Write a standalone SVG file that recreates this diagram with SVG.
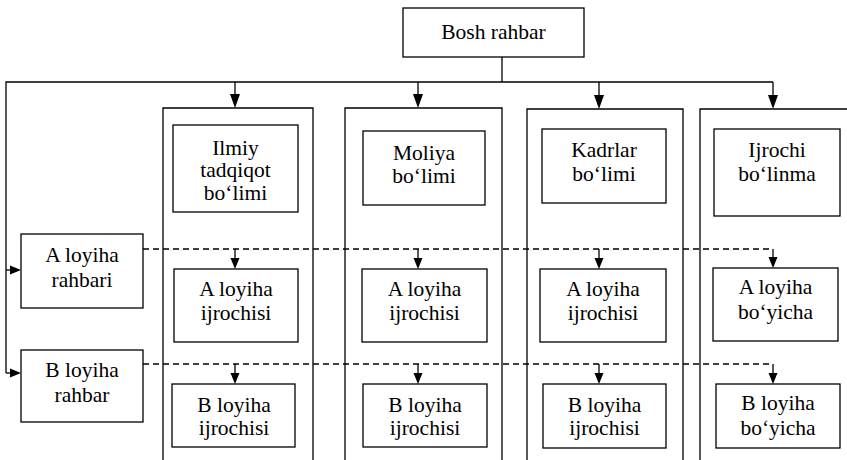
<svg xmlns="http://www.w3.org/2000/svg" width="847" height="460" viewBox="0 0 847 460">
<defs>
<polygon id="hd" points="-5,-14 5,-14 0,0"/>
<polygon id="hs" points="-4.5,-11 4.5,-11 0,0"/>
</defs>
<style>
.box{fill:#fff;stroke:#000;stroke-width:1.3}
.col{fill:none;stroke:#000;stroke-width:1.3}
.ln{fill:none;stroke:#000;stroke-width:1.3}
.dash{fill:none;stroke:#000;stroke-width:1.3;stroke-dasharray:6 4}
.head{fill:#000}
.t text{font-family:"Liberation Serif","Times New Roman",Tinos,"DejaVu Serif",serif;font-size:21.5px;fill:#000;text-anchor:middle}
</style>
<rect width="847" height="460" fill="#fff"/>

<g id="columns">
<path class="col" d="M163,460 V108 H313 V460"/>
<path class="col" d="M345,460 V108 H502 V460"/>
<path class="col" d="M527,460 V109 H683 V460"/>
<path class="col" d="M700,460 V109 H850"/>
</g>

<g id="connectors">
<path class="ln" d="M502,57 V82"/>
<path class="ln" d="M6,373 V82 H773"/>
<path class="ln" d="M235,82 V95"/><use href="#hd" class="head" x="235" y="108"/>
<path class="ln" d="M418,82 V95"/><use href="#hd" class="head" x="418" y="108"/>
<path class="ln" d="M599,82 V95"/><use href="#hd" class="head" x="599" y="109"/>
<path class="ln" d="M773,82 V95"/><use href="#hd" class="head" x="773" y="109"/>
<path class="ln" d="M6,270 H12"/><polygon class="head" points="10,265.5 10,274.5 21,270"/>
<path class="ln" d="M6,373 H12"/><polygon class="head" points="10,368.5 10,377.5 21,373"/>
<path class="dash" d="M143,249 H773"/>
<path class="dash" d="M143,364 H773"/>
<path class="ln" d="M235,249 V259"/><use href="#hs" class="head" x="235" y="269"/>
<path class="ln" d="M418,249 V259"/><use href="#hs" class="head" x="418" y="269"/>
<path class="ln" d="M599,249 V259"/><use href="#hs" class="head" x="599" y="269"/>
<path class="ln" d="M773,249 V258"/><use href="#hs" class="head" x="773" y="268"/>
<path class="ln" d="M235,364 V374"/><use href="#hs" class="head" x="235" y="384"/>
<path class="ln" d="M418,364 V374"/><use href="#hs" class="head" x="418" y="384"/>
<path class="ln" d="M599,364 V374"/><use href="#hs" class="head" x="599" y="384"/>
<path class="ln" d="M773,364 V374"/><use href="#hs" class="head" x="773" y="384"/>
</g>

<g class="t">
<g id="bosh">
<rect class="box" x="403" y="8" width="181" height="49"/>
<text x="493.5" y="39">Bosh rahbar</text>
</g>

<g id="ilmiy">
<rect class="box" x="173" y="125" width="125" height="87"/>
<text x="235.5" y="155">Ilmiy</text>
<text x="235.5" y="177">tadqiqot</text>
<text x="235.5" y="200">bo‘limi</text>
</g>

<g id="moliya">
<rect class="box" x="363" y="131" width="122" height="74"/>
<text x="424" y="160">Moliya</text>
<text x="424" y="183">bo‘limi</text>
</g>

<g id="kadrlar">
<rect class="box" x="542" y="129" width="124" height="74"/>
<text x="604" y="157">Kadrlar</text>
<text x="604" y="181">bo‘limi</text>
</g>

<g id="ijrochi">
<rect class="box" x="714" y="129" width="126" height="87"/>
<text x="777" y="157">Ijrochi</text>
<text x="777" y="181">bo‘linma</text>
</g>

<g id="a-rahbari">
<rect class="box" x="21" y="234" width="122" height="74"/>
<text x="82" y="262">A loyiha</text>
<text x="82" y="287">rahbari</text>
</g>

<g id="b-rahbar">
<rect class="box" x="21" y="350" width="122" height="72"/>
<text x="82" y="377">B loyiha</text>
<text x="82" y="402">rahbar</text>
</g>

<g id="a-ilmiy">
<rect class="box" x="174" y="269" width="124" height="73"/>
<text x="236" y="296">A loyiha</text>
<text x="236" y="320">ijrochisi</text>
</g>

<g id="b-ilmiy">
<rect class="box" x="172" y="384" width="123" height="63"/>
<text x="234" y="412">B loyiha</text>
<text x="234" y="435">ijrochisi</text>
</g>

<g id="a-moliya">
<rect class="box" x="362" y="269" width="125" height="73"/>
<text x="424.5" y="296">A loyiha</text>
<text x="424.5" y="320">ijrochisi</text>
</g>

<g id="b-moliya">
<rect class="box" x="363" y="384" width="124" height="63"/>
<text x="425" y="412">B loyiha</text>
<text x="425" y="435">ijrochisi</text>
</g>

<g id="a-kadrlar">
<rect class="box" x="540" y="269" width="126" height="73"/>
<text x="603" y="296">A loyiha</text>
<text x="603" y="320">ijrochisi</text>
</g>

<g id="b-kadrlar">
<rect class="box" x="543" y="384" width="123" height="64"/>
<text x="604.5" y="412">B loyiha</text>
<text x="604.5" y="435">ijrochisi</text>
</g>

<g id="a-ijrochi">
<rect class="box" x="713" y="268" width="125" height="73"/>
<text x="775.5" y="294">A loyiha</text>
<text x="775.5" y="319">bo‘yicha</text>
</g>

<g id="b-ijrochi">
<rect class="box" x="716" y="384" width="124" height="64"/>
<text x="778" y="410">B loyiha</text>
<text x="778" y="435">bo‘yicha</text>
</g>
</g>
</svg>
